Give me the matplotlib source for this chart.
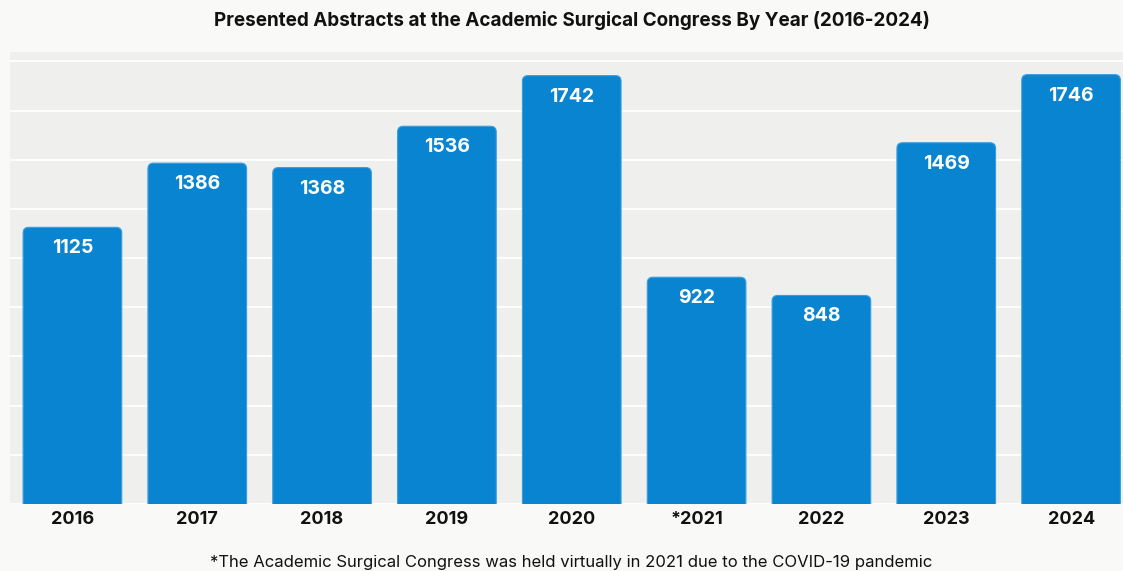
import matplotlib.pyplot as plt
from matplotlib.patches import FancyBboxPatch

# Datos
anios = ['2016', '2017', '2018', '2019', '2020', '*2021', '2022', '2023', '2024']
resumenes = [1125, 1386, 1368, 1536, 1742, 922, 848, 1469, 1746]

plt.rcParams['font.family'] = ['Inter', 'DejaVu Sans']

fig = plt.figure(figsize=(11.23, 5.71), dpi=100, facecolor='#f9f9f7')
ax = fig.add_axes([10 / 1123, 67 / 571, 1123.5 / 1123, 452 / 571])
ax.set_facecolor('#efefee')

barras = ax.bar(range(len(anios)), resumenes, width=0.79, color='#0984d1')

# Reemplazar barras por rectangulos con esquinas superiores redondeadas
for b in barras:
    x, y = b.get_x(), b.get_y()
    w, h = b.get_width(), b.get_height()
    b.remove()
    p = FancyBboxPatch((x, y - 100), w, h + 100,
                       boxstyle='round,pad=0,rounding_size=0.045',
                       mutation_aspect=500, facecolor='#0984d1',
                       edgecolor='#3a9ddc', linewidth=0.8, zorder=3)
    ax.add_patch(p)

for i, v in enumerate(resumenes):
    ax.annotate(str(v), (i, v), xytext=(0, -21), textcoords='offset pixels',
                ha='center', va='center', color='white', fontsize=14,
                fontweight='bold', zorder=4)

ax.set_xlim(-0.5, 8.5)
ax.set_ylim(0, 1838)
ax.set_yticks(range(0, 1801, 200))
ax.yaxis.grid(True, color='white', linewidth=1.3)
ax.set_axisbelow(True)
ax.tick_params(axis='y', left=False, labelleft=False)
ax.tick_params(axis='x', length=0, pad=5)
ax.set_xticks(range(len(anios)))
ax.set_xticklabels(anios, fontsize=13, fontweight='bold', color='#111111')
for s in ax.spines.values():
    s.set_visible(False)

fig.text(572 / 1123, 1 - 20 / 571, 'Presented Abstracts at the Academic Surgical Congress By Year (2016-2024)',
         ha='center', va='center', fontsize=13.6, fontweight='bold', color='#111111')
fig.text(571 / 1123, 1 - 563 / 571,
         '*The Academic Surgical Congress was held virtually in 2021 due to the COVID-19 pandemic',
         ha='center', va='center', fontsize=12, color='#111111')

plt.savefig('out.png', dpi=100, facecolor=fig.get_facecolor())
